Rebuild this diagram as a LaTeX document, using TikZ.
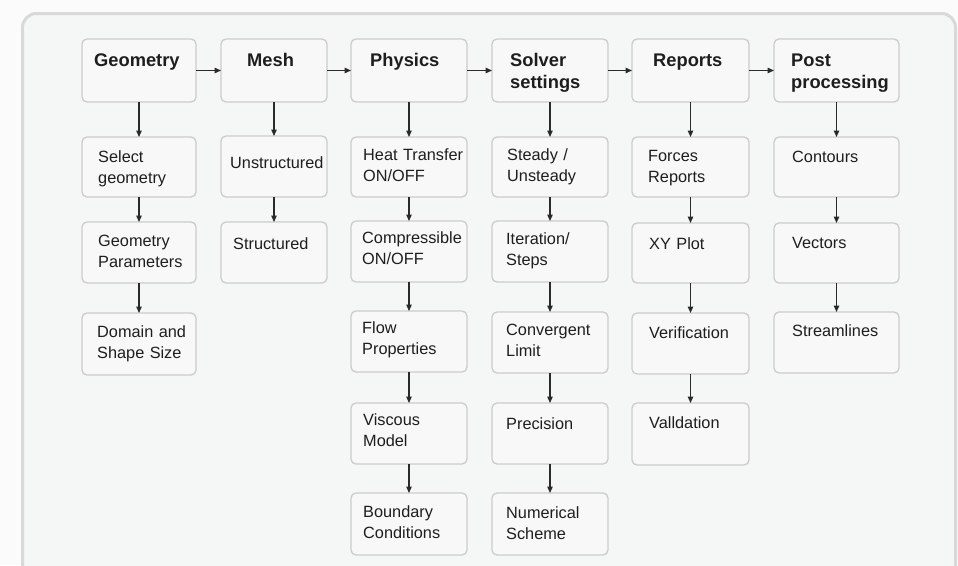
\documentclass[tikz,border=0pt]{standalone}
\usepackage{fontspec}
\setmainfont{Liberation Sans}
\usetikzlibrary{arrows.meta}
\definecolor{outerbg}{HTML}{FBFBFB}
\definecolor{bg}{HTML}{F5F6F6}
\definecolor{frame}{HTML}{D9D9D9}
\definecolor{boxline}{HTML}{CCCCCC}
\definecolor{boxfill}{HTML}{F8F8F8}
\definecolor{ink}{HTML}{1E1E1E}
\definecolor{arrowc}{HTML}{2A2A2A}
\newcommand\bx[5]{\node[box,minimum width={#4-#2},minimum height={#5-#3}] (#1) at ({(#2+#4)/2},{(#3+#5)/2}) {};}
\begin{document}
\begin{tikzpicture}[x=1pt,y=-1pt,
  box/.style={draw=boxline, line width=1.3pt, rounded corners=5pt, fill=boxfill, inner sep=0pt, outer sep=0pt},
  head/.style={anchor=base west, inner sep=0pt, text width=125pt, align=left, font=\fontsize{18.3}{22}\selectfont\bfseries, text=ink},
  item/.style={anchor=base west, inner sep=0pt, text width=125pt, align=left, font=\fontsize{16.3}{21}\selectfont, text=ink},
  arr/.style={draw=arrowc, line width=1.3pt, -{Triangle[length=6.5pt,width=5.5pt]}}]
\useasboundingbox (0,0) rectangle (958,565);
\clip (0,0) rectangle (958,565);
\fill[outerbg] (0,0) rectangle (958,565);
\draw[line width=3pt, draw=frame, fill=bg, rounded corners=14pt] (22.5,13.5) rectangle (955.5,640);

% boxes
\bx{a0}{82}{39}{196}{102}
\bx{a1}{82}{137}{196}{197}
\bx{a2}{82}{222}{196}{283}
\bx{a3}{82}{313}{196}{375}

\bx{b0}{221}{39}{327}{102}
\bx{b1}{221}{136}{327}{197}
\bx{b2}{221}{222}{327}{283}

\bx{c0}{351}{39}{467}{102}
\bx{c1}{351}{137}{467}{197}
\bx{c2}{351}{221}{467}{282}
\bx{c3}{351}{311}{467}{372}
\bx{c4}{351}{403}{467}{464}
\bx{c5}{351}{493}{467}{555}

\bx{d0}{492}{39}{608}{102}
\bx{d1}{492}{137}{608}{197}
\bx{d2}{492}{221}{608}{282}
\bx{d3}{492}{312}{608}{373}
\bx{d4}{492}{403}{608}{464}
\bx{d5}{492}{493}{608}{555}

\bx{e0}{632}{39}{749}{102}
\bx{e1}{632}{137}{749}{197}
\bx{e2}{632}{223}{749}{283}
\bx{e3}{632}{313}{749}{374}
\bx{e4}{632}{403}{749}{465}

\bx{f0}{774}{39}{899}{102}
\bx{f1}{774}{137}{899}{197}
\bx{f2}{774}{223}{899}{283}
\bx{f3}{774}{312}{899}{373}

% header texts
\node[head] (ta0) at (94,66.5) {Geometry};
\node[head] (tb0) at (247,66.5) {Mesh};
\node[head] (tc0) at (370,66.5) {Physics};
\node[head] (td0) at (510,66.5) {Solver\\settings};
\node[head] (te0) at (653,66.5) {Reports};
\node[head] (tf0) at (791,66.5) {Post\\processing};

% item texts
\node[item] (ta1) at (98,162) {Select\\geometry};
\node[item] (ta2) at (98,246) {Geometry\\Parameters};
\node[item] (ta3) at (97,337) {Domain and\\Shape Size};

\node[item] (tb1) at (230,168) {Unstructured};
\node[item] (tb2) at (233,249) {Structured};

\node[item] (tc1) at (363,160) {Heat Transfer\\ON/OFF};
\node[item] (tc2) at (362,243) {Compressible\\ON/OFF};
\node[item] (tc3) at (362,333) {Flow\\Properties};
\node[item] (tc4) at (363,425) {Viscous\\Model};
\node[item] (tc5) at (363,517) {Boundary\\Conditions};

\node[item] (td1) at (507,160) {Steady /\\Unsteady};
\node[item] (td2) at (506,244) {Iteration/\\Steps};
\node[item] (td3) at (506,335) {Convergent\\Limit};
\node[item] (td4) at (506,429) {Precision};
\node[item] (td5) at (506,518) {Numerical\\Scheme};

\node[item] (te1) at (648,161) {Forces\\Reports};
\node[item] (te2) at (649,249) {XY Plot};
\node[item] (te3) at (649,338) {Verification};
\node[item] (te4) at (649,428) {Valldation};

\node[item] (tf1) at (792,162) {Contours};
\node[item] (tf2) at (792,248) {Vectors};
\node[item] (tf3) at (792,336) {Streamlines};

% horizontal arrows
\draw[arr] (a0.east) -- (b0.west);
\draw[arr] (b0.east) -- (c0.west);
\draw[arr] (c0.east) -- (d0.west);
\draw[arr] (d0.east) -- (e0.west);
\draw[arr] (e0.east) -- (f0.west);

% vertical arrows
\foreach \p/\q in {a0/a1,a1/a2,a2/a3,b0/b1,b1/b2,c0/c1,c1/c2,c2/c3,c3/c4,c4/c5,d0/d1,d1/d2,d2/d3,d3/d4,d4/d5,e0/e1,e1/e2,e2/e3,e3/e4,f0/f1,f1/f2,f2/f3}
  \draw[arr] (\p.south) -- (\q.north);
\end{tikzpicture}
\end{document}
